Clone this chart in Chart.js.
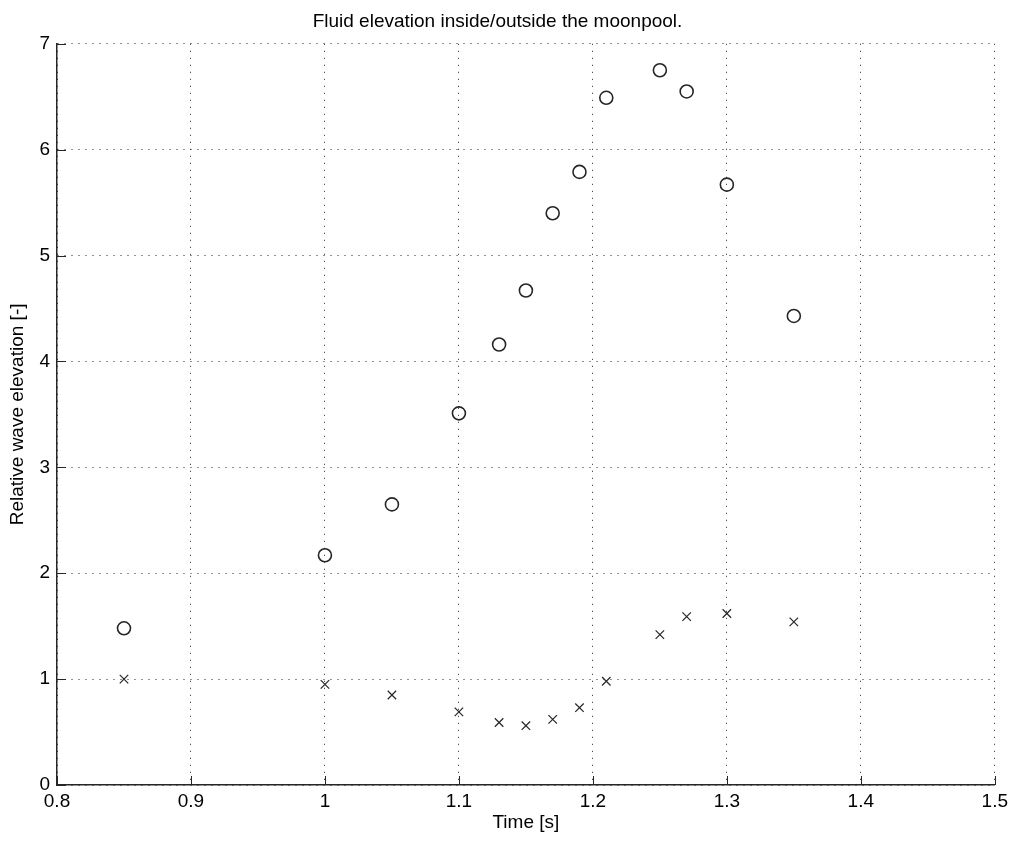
<!DOCTYPE html>
<html>
<head>
<meta charset="utf-8">
<script src="https://cdn.jsdelivr.net/npm/chart.js@4"></script>
<style>
  html, body { margin: 0; padding: 0; background: #fff; }
  #wrap { width: 1013px; height: 842px; }
</style>
</head>
<body>
<div id="wrap"><canvas id="moonpool"></canvas></div>
<script>
const timeS = [0.85, 1.0, 1.05, 1.1, 1.13, 1.15, 1.17, 1.19, 1.21, 1.25, 1.27, 1.3, 1.35];
const insideElev = [1.48, 2.17, 2.65, 3.51, 4.16, 4.67, 5.40, 5.79, 6.49, 6.75, 6.55, 5.67, 4.43];
const outsideElev = [1.00, 0.95, 0.85, 0.69, 0.59, 0.56, 0.62, 0.73, 0.98, 1.42, 1.59, 1.62, 1.54];

const xTicks = [0.8, 0.9, 1.0, 1.1, 1.2, 1.3, 1.4, 1.5];
const yTicks = [0, 1, 2, 3, 4, 5, 6, 7];

const ink = '#262626';
const font = { family: '"Liberation Sans", Arial, sans-serif', size: 19 };

function toPoints(ys) {
  return timeS.map((t, i) => ({ x: t, y: ys[i] }));
}

// little tick marks pointing into the plot, matlab style
const innerTicks = {
  id: 'innerTicks',
  afterDraw(chart) {
    const { ctx, chartArea, scales } = chart;
    const len = 9;
    ctx.save();
    ctx.strokeStyle = ink;
    ctx.lineWidth = 1;
    ctx.beginPath();
    xTicks.forEach(v => {
      const px = Math.round(scales.x.getPixelForValue(v)) + 0.5;
      ctx.moveTo(px, chartArea.bottom);
      ctx.lineTo(px, chartArea.bottom - len);
    });
    yTicks.forEach(v => {
      const py = Math.round(scales.y.getPixelForValue(v)) + 0.5;
      ctx.moveTo(chartArea.left, py);
      ctx.lineTo(chartArea.left + len, py);
    });
    ctx.stroke();
    ctx.restore();
  }
};

new Chart(document.getElementById('moonpool'), {
  type: 'scatter',
  data: {
    datasets: [
      {
        label: 'inside',
        data: toPoints(insideElev),
        pointStyle: 'circle',
        pointRadius: 6.5,
        borderColor: ink,
        borderWidth: 1.6,
        backgroundColor: 'rgba(0,0,0,0)'
      },
      {
        label: 'outside',
        data: toPoints(outsideElev),
        pointStyle: 'crossRot',
        pointRadius: 6,
        borderColor: ink,
        borderWidth: 1.2,
        backgroundColor: ink
      }
    ]
  },
  options: {
    responsive: true,
    maintainAspectRatio: false,
    animation: false,
    events: [],
    layout: { padding: { left: 0, right: 18, top: 0, bottom: 0 } },
    plugins: {
      legend: { display: false },
      tooltip: { enabled: false },
      title: {
        display: true,
        text: 'Fluid elevation inside/outside the moonpool.',
        color: '#000',
        font: { ...font, weight: 'normal' },
        padding: { top: 10, bottom: 11 }
      }
    },
    scales: {
      x: {
        type: 'linear',
        min: 0.8,
        max: 1.5,
        afterBuildTicks: s => { s.ticks = xTicks.map(v => ({ value: v })); },
        afterFit: s => { s.height = 57; },
        ticks: {
          color: '#000',
          font,
          padding: 5,
          maxRotation: 0,
          callback: v => String(Math.round(v * 10) / 10)
        },
        grid: { color: ink, drawTicks: false, lineWidth: 1 },
        border: { display: true, color: ink, width: 1.5, dash: [1, 6] },
        title: {
          display: true,
          text: 'Time [s]',
          color: '#000',
          font,
          padding: { top: 0, bottom: 8 }
        }
      },
      y: {
        type: 'linear',
        min: 0,
        max: 7,
        afterBuildTicks: s => { s.ticks = yTicks.map(v => ({ value: v })); },
        afterFit: s => { s.width = 57; },
        ticks: { color: '#000', font, padding: 7 },
        grid: { color: ink, drawTicks: false, lineWidth: 1 },
        border: { display: true, color: ink, width: 1.5, dash: [1, 6] },
        title: {
          display: true,
          text: 'Relative wave elevation [-]',
          color: '#000',
          font,
          padding: { top: 6, bottom: 0 }
        }
      }
    }
  },
  plugins: [innerTicks]
});
</script>
</body>
</html>
